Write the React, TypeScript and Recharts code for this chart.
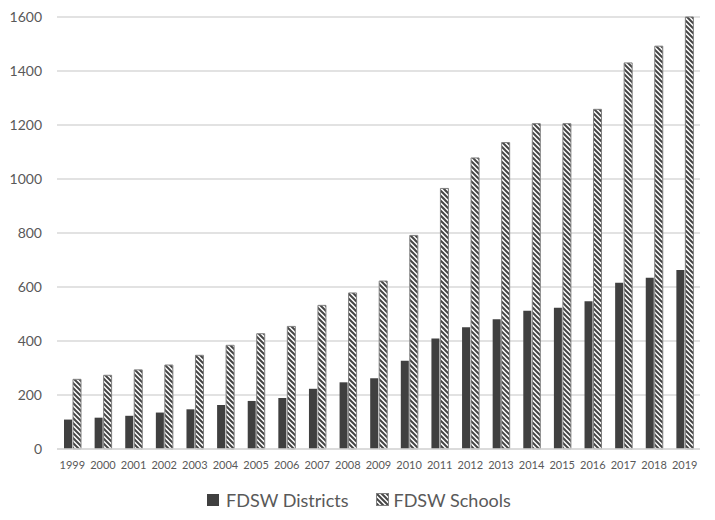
import { Bar, BarChart, CartesianGrid, Legend, XAxis, YAxis } from "recharts"

const years = [
  "1999", "2000", "2001", "2002", "2003", "2004", "2005", "2006", "2007", "2008", "2009",
  "2010", "2011", "2012", "2013", "2014", "2015", "2016", "2017", "2018", "2019",
]
const districts = [109, 116, 123, 135, 147, 163, 178, 189, 223, 247, 262, 327, 409, 451, 481, 512, 523, 547, 616, 634, 663]
const schools = [258, 273, 293, 311, 347, 384, 427, 454, 532, 578, 622, 791, 965, 1078, 1135, 1205, 1205, 1258, 1430, 1492, 1600]
const yTicks = [0, 200, 400, 600, 800, 1000, 1200, 1400, 1600]

const data = years.map((year, i) => ({
  year,
  districts: districts[i],
  schools: schools[i],
}))

const FONT = "Lato, 'Open Sans', sans-serif"
const TEXT = "#595959"

function ChartLegend() {
  return (
    <div
      style={{
        height: 41,
        display: "flex",
        alignItems: "center",
        justifyContent: "center",
        gap: 28,
        paddingLeft: 18,
        fontFamily: FONT,
        fontSize: 18,
        color: TEXT,
      }}
    >
      <span style={{ display: "flex", alignItems: "center", gap: 7 }}>
        <svg width={12} height={12}>
          <rect x={0} y={0} width={12} height={12} fill="#404040" />
        </svg>
        FDSW Districts
      </span>
      <span style={{ display: "flex", alignItems: "center", gap: 4 }}>
        <svg width={13} height={13}>
          <rect x={0.5} y={0.5} width={12} height={12} fill="url(#hatch)" stroke="#7f7f7f" />
        </svg>
        FDSW Schools
      </span>
    </div>
  )
}

export default function App() {
  return (
    <div style={{ position: "relative", width: 715, height: 520, margin: -8, background: "#fff" }}>
      <svg width={0} height={0} style={{ position: "absolute" }}>
        <defs>
          <pattern id="hatch" patternUnits="userSpaceOnUse" width={5} height={5}>
            <rect x={0} y={0} width={5} height={5} fill="#ffffff" />
            <path d="M-1,-1 L6,6 M-1,4 L1,6 M4,-1 L6,1" stroke="#454545" strokeWidth={2} />
          </pattern>
        </defs>
      </svg>
      <BarChart
        width={715}
        height={520}
        data={data}
        margin={{ top: 17, right: 15, left: 0, bottom: 0 }}
        barSize={8}
        barGap={1}
      >
        <CartesianGrid stroke="#d9d9d9" strokeWidth={1.5} vertical={false} />
        <XAxis
          dataKey="year"
          height={30}
          interval={0}
          tickLine={false}
          axisLine={{ stroke: "#d9d9d9", strokeWidth: 1.5 }}
          tick={{ fill: TEXT, fontSize: 11, fontFamily: FONT }}
          tickMargin={6}
        />
        <YAxis
          width={57}
          domain={[0, 1600]}
          ticks={yTicks}
          interval={0}
          tickLine={false}
          axisLine={false}
          tick={{ fill: TEXT, fontSize: 14, fontFamily: FONT }}
          tickMargin={9}
        />
        <Legend verticalAlign="bottom" content={<ChartLegend />} />
        <Bar dataKey="districts" name="FDSW Districts" fill="#404040" isAnimationActive={false} />
        <Bar
          dataKey="schools"
          name="FDSW Schools"
          fill="url(#hatch)"
          stroke="#7f7f7f"
          strokeWidth={1}
          isAnimationActive={false}
        />
      </BarChart>
      <div
        style={{
          position: "absolute",
          left: 2,
          top: 2,
          width: 711,
          height: 516,
          boxSizing: "border-box",
          border: "1px solid #d9d9d9",
          pointerEvents: "none",
        }}
      />
    </div>
  )
}
